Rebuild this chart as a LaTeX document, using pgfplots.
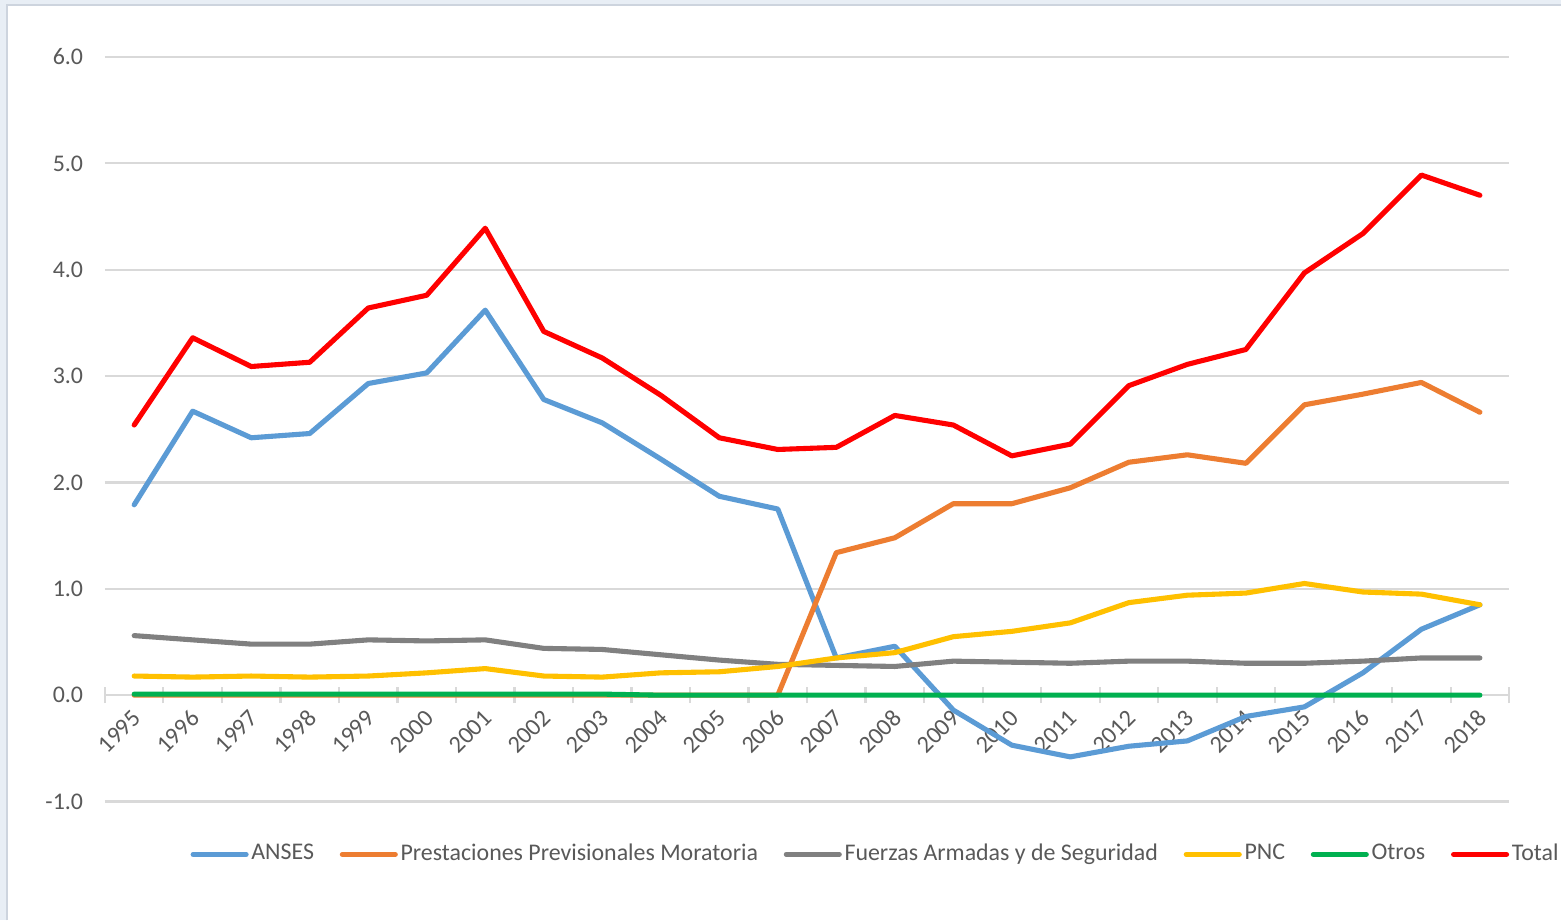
\documentclass[border=0pt]{standalone}
\usepackage{fontspec}
\setmainfont{Carlito}
\usepackage{pgfplots}
\pgfplotsset{compat=1.18}
\definecolor{anses}{RGB}{91,155,213}
\definecolor{morat}{RGB}{237,125,49}
\definecolor{ffaa}{RGB}{128,128,128}
\definecolor{pnc}{RGB}{255,192,0}
\definecolor{otros}{RGB}{0,176,80}
\definecolor{total}{RGB}{255,0,0}
\definecolor{gridc}{RGB}{217,217,217}
\definecolor{txt}{RGB}{89,89,89}
\definecolor{bgc}{RGB}{232,238,245}
\definecolor{framec}{RGB}{205,212,222}

\begin{document}
\begin{tikzpicture}
% screenshot margin and chart frame
\fill[bgc] (-1.05,-1.19) rectangle (14.57,8.02);
\fill[white] (-0.98,-1.19) rectangle (14.57,7.97);
\draw[framec, line width=0.5pt] (-0.98,-1.19) -- (-0.98,7.97) -- (14.57,7.97);
\path[use as bounding box] (-1.05,-1.19) rectangle (14.57,8.02);
\begin{axis}[
    scale only axis, width=14.05cm, height=7.45cm,
    xmin=1994.5, xmax=2018.5, ymin=-1, ymax=6,
    axis x line=middle, axis y line=left,
    x axis line style={-, draw=gridc, line width=0.6pt},
    y axis line style={draw=none},
    xtick={1995,...,2018}, major x tick style={draw=none},
    extra x ticks={1994.5,1995.5,...,2018.5}, extra x tick labels={},
    extra x tick style={major tick length=0.16cm, major x tick style={draw=gridc, line width=0.6pt}, xtick align=center},
    ytick={-1,0,...,6}, major y tick style={draw=none},
    ymajorgrids, grid style={draw=gridc, line width=0.6pt},
    x tick label style={rotate=45, anchor=east, font=\fontsize{6.9}{8}\selectfont, text=txt, xshift=0.06cm, yshift=-0.1cm},
    xticklabel={\pgfmathprintnumber[1000 sep={}, assume math mode=true]{\tick}},
    y tick label style={font=\fontsize{6.8}{8}\selectfont, text=txt, xshift=-0.02cm},
    yticklabel={\pgfmathprintnumber[fixed, fixed zerofill, precision=1, assume math mode=true]{\tick}},
    every axis plot/.append style={line width=1.45pt, line cap=round, line join=round},
    legend columns=6,
    legend style={at={(0.0605,-0.071)}, anchor=west, draw=none, fill=none,
        inner xsep=0pt, inner ysep=0pt, font=\fontsize{6.8}{8}\selectfont, text=txt,
        nodes={inner xsep=0.5pt},
        /tikz/every even column/.append style={column sep=0.24cm},
        /tikz/every odd column/.append style={column sep=0.01cm}},
    legend image code/.code={\draw[#1, line cap=round] (0cm,0cm) -- (0.53cm,0cm);},
]
\addplot[anses] coordinates {
(1995,1.79) (1996,2.67) (1997,2.42) (1998,2.46) (1999,2.93) (2000,3.03)
(2001,3.62) (2002,2.78) (2003,2.56) (2004,2.22) (2005,1.87) (2006,1.75)
(2007,0.35) (2008,0.46) (2009,-0.14) (2010,-0.47) (2011,-0.58) (2012,-0.48)
(2013,-0.43) (2014,-0.20) (2015,-0.11) (2016,0.21) (2017,0.62) (2018,0.85)};
\addlegendentry{ANSES}
\addplot[morat] coordinates {
(1995,0) (1996,0) (1997,0) (1998,0) (1999,0) (2000,0)
(2001,0) (2002,0) (2003,0) (2004,0) (2005,0) (2006,0)
(2007,1.34) (2008,1.48) (2009,1.80) (2010,1.80) (2011,1.95) (2012,2.19)
(2013,2.26) (2014,2.18) (2015,2.73) (2016,2.83) (2017,2.94) (2018,2.66)};
\addlegendentry{Prestaciones Previsionales Moratoria}
\addplot[ffaa] coordinates {
(1995,0.56) (1996,0.52) (1997,0.48) (1998,0.48) (1999,0.52) (2000,0.51)
(2001,0.52) (2002,0.44) (2003,0.43) (2004,0.38) (2005,0.33) (2006,0.29)
(2007,0.28) (2008,0.27) (2009,0.32) (2010,0.31) (2011,0.30) (2012,0.32)
(2013,0.32) (2014,0.30) (2015,0.30) (2016,0.32) (2017,0.35) (2018,0.35)};
\addlegendentry{Fuerzas Armadas y de Seguridad}
\addplot[pnc] coordinates {
(1995,0.18) (1996,0.17) (1997,0.18) (1998,0.17) (1999,0.18) (2000,0.21)
(2001,0.25) (2002,0.18) (2003,0.17) (2004,0.21) (2005,0.22) (2006,0.27)
(2007,0.35) (2008,0.40) (2009,0.55) (2010,0.60) (2011,0.68) (2012,0.87)
(2013,0.94) (2014,0.96) (2015,1.05) (2016,0.97) (2017,0.95) (2018,0.85)};
\addlegendentry{PNC}
\addplot[otros] coordinates {
(1995,0.01) (1996,0.01) (1997,0.01) (1998,0.01) (1999,0.01) (2000,0.01)
(2001,0.01) (2002,0.01) (2003,0.01) (2004,0.00) (2005,0.00) (2006,0.00)
(2007,0.00) (2008,0.00) (2009,0.00) (2010,0.00) (2011,0.00) (2012,0.00)
(2013,0.00) (2014,0.00) (2015,0.00) (2016,0.00) (2017,0.00) (2018,0.00)};
\addlegendentry{Otros}
\addplot[total] coordinates {
(1995,2.54) (1996,3.36) (1997,3.09) (1998,3.13) (1999,3.64) (2000,3.76)
(2001,4.39) (2002,3.42) (2003,3.17) (2004,2.82) (2005,2.42) (2006,2.31)
(2007,2.33) (2008,2.63) (2009,2.54) (2010,2.25) (2011,2.36) (2012,2.91)
(2013,3.11) (2014,3.25) (2015,3.97) (2016,4.34) (2017,4.89) (2018,4.70)};
\addlegendentry{Total}
\end{axis}
\end{tikzpicture}
\end{document}
